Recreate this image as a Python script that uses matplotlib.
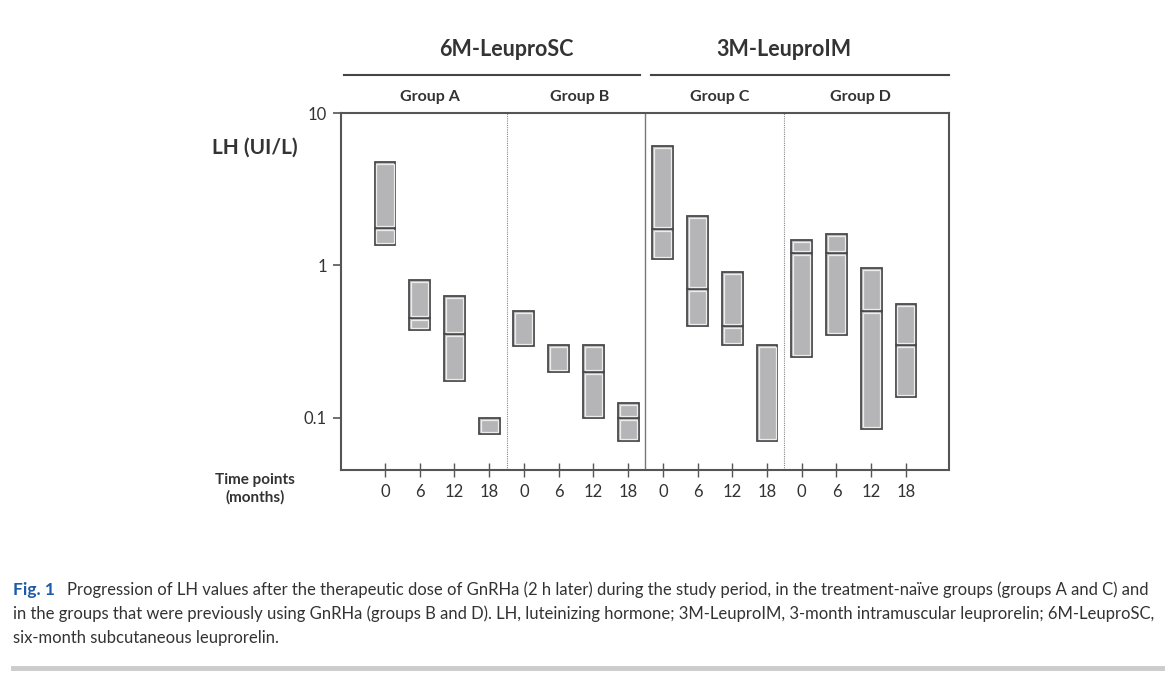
import matplotlib.pyplot as plt
from matplotlib.lines import Line2D

# LH (UI/L) ranges per group and time point
groups = ['Group A', 'Group B', 'Group C', 'Group D']
drugs = ['6M-LeuproSC', '3M-LeuproIM']
months = ['0', '6', '12', '18']

lh_top = [4.77, 0.80, 0.634, 0.1005,
          0.506, 0.30, 0.30, 0.126,
          6.1, 2.10, 0.902, 0.30,
          1.46, 1.61, 0.957, 0.56]
lh_bottom = [1.36, 0.378, 0.176, 0.078,
             0.298, 0.201, 0.1005, 0.0703,
             1.10, 0.401, 0.30, 0.0703,
             0.251, 0.352, 0.085, 0.137]
lh_median = [1.77, 0.451, 0.354, None,
             None, None, 0.201, 0.0995,
             1.74, 0.705, 0.401, None,
             1.21, 1.21, 0.506, 0.301]

caption_1 = ("Progression of LH values after the therapeutic dose of GnRHa (2 h later) during the study period, "
             "in the treatment-naïve groups (groups A and C) and")
caption_2 = ("in the groups that were previously using GnRHa (groups B and D). LH, luteinizing hormone; "
             "3M-LeuproIM, 3-month intramuscular leuprorelin; 6M-LeuproSC,")
caption_3 = "six-month subcutaneous leuprorelin."

plt.rcParams['font.family'] = ['Lato', 'DejaVu Sans']

W, H = 1174, 689
fig = plt.figure(figsize=(W / 100, H / 100), dpi=100)
ax = fig.add_axes([341 / W, 1 - 470 / H, (949 - 341) / W, (470 - 113) / H])

box_w = 0.6
inset = 1.03


def draw_section(x, lo, hi):
    # dark outer box plus a light inner outline
    ax.bar(x, hi - lo, bottom=lo, width=box_w, color='#b5b5b8', edgecolor='#4a4a4a', linewidth=1.3, zorder=3)
    lo2, hi2 = lo * inset, hi / inset
    ax.bar(x, hi2 - lo2, bottom=lo2, width=box_w - 0.11, color='none', edgecolor='#ededed', linewidth=0.9,
           zorder=4)


for i in range(len(lh_top)):
    if lh_median[i] is None:
        draw_section(i, lh_bottom[i], lh_top[i])
    else:
        draw_section(i, lh_bottom[i], lh_median[i])
        draw_section(i, lh_median[i], lh_top[i])

ax.set_yscale('log')
ax.set_ylim(0.0456, 10)
ax.set_xlim(-1.267, 16.24)

# group separators
for k, sep in enumerate([3.5, 7.5, 11.5]):
    if k == 1:
        ax.axvline(sep, color='#777777', linewidth=1.0, zorder=1)
    else:
        ax.axvline(sep, color='#888888', linewidth=0.8, linestyle=(0, (1, 1)), zorder=1)

ax.set_yticks([0.1, 1, 10])
ax.set_yticklabels(['0.1', '1', '10'])
ax.minorticks_off()
ax.set_xticks(range(len(lh_top)))
ax.set_xticklabels(months * len(groups))
ax.tick_params(axis='y', direction='out', length=6, width=1.2, color='#555555', labelsize=12,
               labelcolor='#333333', pad=4)
ax.tick_params(axis='x', direction='inout', length=10, width=1.0, color='#555555', labelsize=12,
               labelcolor='#333333', pad=5)
for s in ax.spines.values():
    s.set_color('#555555')
    s.set_linewidth(1.5)

# headers
group_pos = [1.3, 5.6, 9.65, 13.7]
for g, name in enumerate(groups):
    ax.text(group_pos[g], 1.025, name, transform=ax.get_xaxis_transform(), ha='center', va='bottom',
            fontsize=11.5, fontweight='bold', color='#333333')
for d, name in enumerate(drugs):
    ax.text(d * 8 + 3.5, 1.148, name, transform=ax.get_xaxis_transform(), ha='center', va='bottom',
            fontsize=15.5, fontweight='bold', color='#333333')
fig.add_artist(Line2D([344 / W, 640 / W], [1 - 75 / H] * 2, color='#444444', linewidth=1.5))
fig.add_artist(Line2D([651 / W, 949 / W], [1 - 75 / H] * 2, color='#444444', linewidth=1.5))

fig.text(255 / W, 1 - 148 / H, 'LH (UI/L)', ha='center', va='center', fontsize=15, fontweight='bold',
         color='#333333')
fig.text(255 / W, 1 - 489 / H, 'Time points\n(months)', ha='center', va='center', fontsize=11,
         fontweight='bold', color='#333333', linespacing=1.3)

# caption
cap_size = 12
fig.text(13 / W, 1 - 590 / H, 'Fig. 1', ha='left', va='center', fontsize=cap_size + 0.5, fontweight='bold',
         color='#1f5aa6')
fig.text(67 / W, 1 - 590 / H, caption_1, ha='left', va='center', fontsize=cap_size, color='#333333')
fig.text(13 / W, 1 - 614 / H, caption_2, ha='left', va='center', fontsize=cap_size, color='#333333')
fig.text(13 / W, 1 - 638 / H, caption_3, ha='left', va='center', fontsize=cap_size, color='#333333')
fig.add_artist(Line2D([13 / W, 1162 / W], [1 - 668 / H] * 2, color='#cccccc', linewidth=3.5))

fig.savefig('out.png', dpi=100)
